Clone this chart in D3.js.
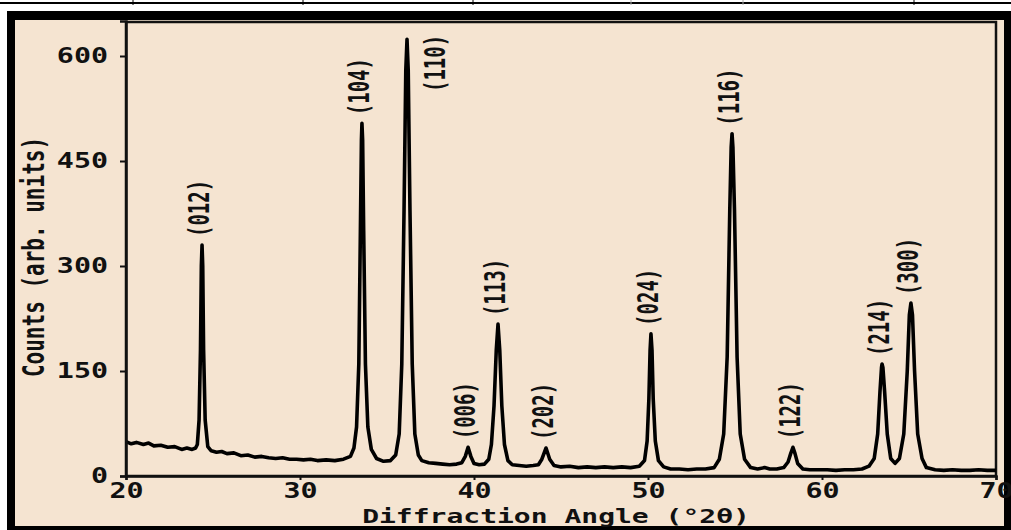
<!DOCTYPE html>
<html>
<head>
<meta charset="utf-8">
<script src="https://cdn.jsdelivr.net/npm/d3@7"></script>
<style>
  body { margin: 0; background: #fff; }
  .tick text { font-family: "DejaVu Sans Mono", monospace; font-weight: bold; font-size: 21px; fill: #111; transform-box: fill-box; }
  .yaxis .tick text { transform-origin: right center; transform: scaleX(1.35); }
  .xaxis .tick text { transform-origin: center center; transform: scaleX(1.35); }
</style>
</head>
<body>
<div id="chart"></div>
<script>
// XRD pattern: angle (deg 2theta) and counts
var angle = [20.0, 20.3, 20.6, 21.0, 21.3, 21.6, 22.0, 22.4, 22.8, 23.2, 23.5, 23.8, 24.0,
  24.1, 24.2, 24.28, 24.33, 24.37, 24.41, 24.46, 24.55, 24.7, 24.9,
  25.2, 25.5, 25.8, 26.2, 26.6, 27.0, 27.4, 27.8, 28.2, 28.6, 29.0, 29.4, 29.8, 30.2, 30.6, 31.0, 31.5, 32.0, 32.5, 32.9, 33.1,
  33.25, 33.38, 33.47, 33.53, 33.56, 33.6, 33.66, 33.76, 33.9, 34.1, 34.4, 34.8, 35.2, 35.5,
  35.7, 35.85, 35.98, 36.08, 36.15, 36.22, 36.32, 36.45, 36.6, 36.8, 37.0, 37.4, 37.8, 38.2, 38.6, 39.0,
  39.3, 39.5, 39.66, 39.82, 40.0, 40.3, 40.6, 40.85,
  41.0, 41.15, 41.28, 41.38, 41.48, 41.6, 41.75, 41.95, 42.2, 42.6, 43.0, 43.4, 43.7,
  43.9, 44.14, 44.35, 44.6, 45.0, 45.5, 46.0, 46.5, 47.0, 47.5, 48.0, 48.5, 49.0, 49.5,
  49.8, 49.95, 50.05, 50.12, 50.17, 50.23, 50.3, 50.42, 50.6, 50.9, 51.3, 51.8, 52.3, 52.8, 53.3, 53.8,
  54.1, 54.35, 54.55, 54.7, 54.78, 54.83, 54.88, 54.97, 55.12, 55.3, 55.55, 55.9, 56.3, 56.7, 57.0, 57.4, 57.8,
  58.05, 58.2, 58.33, 58.45, 58.6, 58.9, 59.3, 59.8, 60.3, 60.8, 61.3, 61.8, 62.3, 62.7,
  63.0, 63.2, 63.33, 63.42, 63.45, 63.5, 63.6, 63.75, 63.95, 64.2,
  64.45, 64.7, 64.9, 65.02, 65.11, 65.2, 65.32, 65.5, 65.75, 66.0, 66.5, 67.0, 67.5, 68.0, 68.5, 69.0, 69.5, 70.0];
var counts = [49, 46, 48, 45, 47, 43, 44, 41, 42, 38, 40, 38, 40,
  45, 80, 180, 300, 330, 300, 180, 80, 42, 36,
  34, 35, 32, 33, 29, 30, 27, 28, 26, 25, 26, 24, 24, 23, 24, 22, 23, 22, 24, 28, 40,
  70, 160, 350, 480, 504, 480, 350, 160, 70, 38, 25, 21, 22, 30,
  60, 160, 380, 580, 624, 580, 380, 160, 60, 30, 22, 19, 18, 17, 16, 17,
  19, 28, 41, 28, 18, 16, 17, 24,
  45, 100, 180, 217, 180, 100, 45, 22, 16, 15, 14, 15, 16,
  24, 40, 24, 15, 13, 14, 12, 13, 12, 13, 12, 13, 12, 14,
  22, 50, 110, 180, 203, 180, 110, 50, 22, 13, 10, 10, 9, 10, 10, 12,
  24, 60, 170, 380, 470, 489, 470, 380, 170, 60, 24, 12, 10, 12, 10, 10, 12,
  20, 32, 41, 32, 18, 10, 9, 9, 9, 8, 9, 9, 10, 14,
  25, 60, 120, 155, 160, 155, 120, 60, 25, 18,
  25, 60, 150, 230, 247, 230, 150, 60, 25, 12, 9, 8, 9, 8, 8, 9, 8, 8];

var peakLabel = ['(012)', '(104)', '(110)', '(006)', '(113)', '(202)', '(024)', '(116)', '(122)', '(214)', '(300)'];
var peakAngle = [24.37, 33.56, 36.15, 39.66, 41.38, 44.14, 50.17, 54.83, 58.33, 63.45, 65.11];
var peakCounts = [330, 504, 624, 41, 217, 40, 203, 489, 41, 160, 247];

var xTicks = [20, 30, 40, 50, 60, 70];
var yTicks = [0, 150, 300, 450, 600];
var topMarks = [133, 303, 473, 631, 743, 914];

draw_chart();
function draw_chart(){
    var W = 1011, H = 530;
    var svg = d3.select('#chart').append('svg')
        .attr('width', W).attr('height', H);

    // bits of the table above the figure
    svg.append('line').attr('x1', 0).attr('x2', W).attr('y1', 3).attr('y2', 3)
        .attr('stroke', '#000').attr('stroke-width', 2);
    svg.selectAll('.topmark').data(topMarks).enter().append('line')
        .attr('x1', function(d){ return d; }).attr('x2', function(d){ return d; })
        .attr('y1', 0).attr('y2', 5)
        .attr('stroke', function(d, i){ return (i == 3 || i == 4) ? '#aaa' : '#000'; })
        .attr('stroke-width', 1);

    // black frame + beige panel
    svg.append('rect').attr('x', 7).attr('y', 11).attr('width', W).attr('height', H)
        .attr('fill', '#000');
    svg.append('rect').attr('x', 15).attr('y', 20).attr('width', 989).attr('height', 506)
        .attr('fill', '#f5e4d1');

    var x = d3.scaleLinear().domain([20, 70]).range([126, 996]);
    var y = d3.scaleLinear().domain([0, 650]).range([476, 21]);

    svg.append('rect').attr('x', 126).attr('y', 22).attr('width', 870).attr('height', 454)
        .attr('fill', 'none').attr('stroke', '#111').attr('stroke-width', 2.5);

    var pts = angle.map(function(a, i){ return [a, counts[i]]; });
    var line = d3.line()
        .x(function(d){ return x(d[0]); })
        .y(function(d){ return y(d[1]); });
    svg.append('path').datum(pts)
        .attr('d', line)
        .attr('fill', 'none')
        .attr('stroke', '#000')
        .attr('stroke-width', 3.6)
        .attr('stroke-linejoin', 'round');

    var xAxis = svg.append('g').attr('class', 'xaxis')
        .attr('transform', 'translate(0,476)')
        .call(d3.axisBottom(x).tickValues(xTicks).tickSize(4).tickPadding(3).tickFormat(d3.format('d')));
    var yAxis = svg.append('g').attr('class', 'yaxis')
        .attr('transform', 'translate(126,0)')
        .call(d3.axisLeft(y).tickValues(yTicks).tickSize(6).tickPadding(12).tickFormat(d3.format('d')));
    svg.selectAll('.domain').attr('stroke', '#111').attr('stroke-width', 2.5);
    svg.selectAll('.tick line').attr('stroke', '#111').attr('stroke-width', 2);

    // peak labels, rotated
    svg.selectAll('.peak').data(peakLabel).enter().append('text')
        .attr('class', 'peak')
        .attr('transform', function(d, i){
            var px = x(peakAngle[i]), py = y(peakCounts[i]) - 8;
            if (d == '(110)'){ px = px + 31; py = 92; }
            return 'translate(' + (px + 7) + ',' + py + ') scale(1.45,1) rotate(-90)';
        })
        .attr('font-family', 'DejaVu Sans Mono')
        .attr('font-weight', 'bold')
        .attr('font-size', 19)
        .attr('fill', '#111')
        .text(function(d){ return d; });

    svg.append('text')
        .attr('transform', 'translate(44,257) scale(1.45,1) rotate(-90)')
        .attr('text-anchor', 'middle')
        .attr('font-family', 'DejaVu Sans Mono')
        .attr('font-weight', 'bold')
        .attr('font-size', 21)
        .attr('fill', '#111')
        .text('Counts (arb. units)');

    svg.append('text')
        .attr('transform', 'translate(556,523) scale(1.4,1)')
        .attr('text-anchor', 'middle')
        .attr('font-family', 'DejaVu Sans Mono')
        .attr('font-weight', 'bold')
        .attr('font-size', 20)
        .attr('fill', '#111')
        .text('Diffraction Angle (°2θ)');
}
</script>
</body>
</html>
